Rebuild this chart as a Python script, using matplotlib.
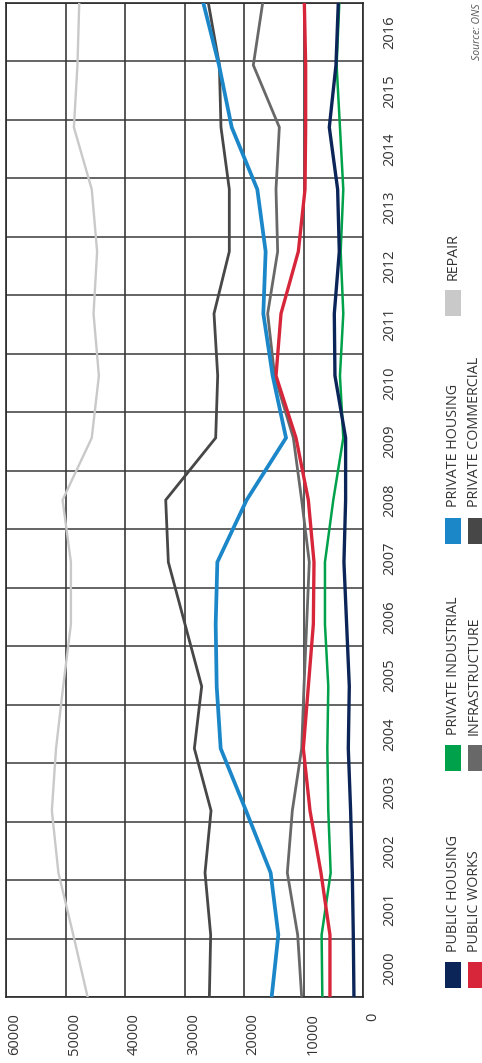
import numpy as np
import matplotlib
matplotlib.use("Agg")
import matplotlib.pyplot as plt
from matplotlib.transforms import ScaledTranslation
from matplotlib.patches import Rectangle

plt.rcParams['font.family'] = ['Open Sans', 'DejaVu Sans']

# Construction output by sector (GBP million), 2000-2016
years = [str(y) for y in range(2000, 2017)]
public_housing = [1570, 1680, 1850, 2130, 2520, 2350, 2800, 3250, 2970, 2970,
                  4760, 4870, 4030, 4310, 5710, 4590, 4200]
private_industrial = [6880, 7000, 5480, 5880, 6040, 5880, 6440, 6440, 5040, 3360,
                      3920, 3360, 3800, 3360, 3920, 4480, 4030]
private_housing = [15390, 14270, 15560, 19700, 23950, 24620, 24790, 24510, 19590, 12980,
                   15220, 16790, 16400, 17800, 22100, 24230, 26860]
repair = [46300, 48700, 51200, 52300, 51600, 50400, 49100, 49100, 50500, 45600,
          44400, 45300, 44700, 45600, 48600, 48000, 47700]
public_works = [5600, 5600, 7110, 8950, 10070, 9230, 8390, 8280, 9230, 11300,
                14660, 13820, 10910, 9790, 9680, 9680, 9900]
infrastructure = [10350, 11020, 12760, 11920, 10350, 9960, 9510, 9070, 10350, 11750,
                  14890, 16060, 14380, 14660, 14100, 18470, 16900]
private_commercial = [25850, 25630, 26580, 25570, 28370, 27140, 29940, 32740, 33180, 24790,
                      24450, 25070, 22500, 22500, 23900, 24170, 26020]

value_ticks = [0, 10000, 20000, 30000, 40000, 50000, 60000]

W, H, DPI = 482, 1063, 100
fig = plt.figure(figsize=(W / DPI, H / DPI), dpi=DPI)

# Axes box in pixel units, converted to figure fractions
x0, x1, ytop, ybot = 6, 363.3, 3, 997
ax = fig.add_axes([x0 / W, 1 - ybot / H, (x1 - x0) / W, (ybot - ytop) / H])

idx = np.arange(len(years))
n = len(years) - 1

series = [
    (repair, '#c9c9c9', 1.7),
    (private_commercial, '#474747', 2.0),
    (infrastructure, '#686868', 2.0),
    (private_industrial, '#00a14b', 1.8),
    (public_works, '#d7263a', 2.4),
    (public_housing, '#0b2559', 2.4),
    (private_housing, '#1b87c9', 2.7),
]
for vals, col, lw in series:
    ax.plot(vals, idx, color=col, lw=lw, solid_joinstyle='miter', zorder=3)

ax.set_xlim(60000, 0)
ax.set_ylim(0, n)

# value axis (drawn along the bottom, rotated labels)
ax.set_xticks(value_ticks)
ax.set_xticklabels([str(v) for v in value_ticks], rotation=90, fontsize=10.5,
                   color='#333333')
ax.tick_params(axis='x', length=0, pad=11.5)
for lab in ax.get_xticklabels():
    lab.set_transform(lab.get_transform() + ScaledTranslation(0.09, 0, fig.dpi_scale_trans))
ax.grid(axis='x', which='major', color='#2a2a2a', lw=1.1, zorder=1)

# year bands: gridlines on band edges, labels at band centres on the right
band = n / len(years)
ax.set_yticks([k * band for k in range(len(years) + 1)], minor=True)
ax.set_yticks([(k + 0.5) * band for k in range(len(years))])
ax.set_yticklabels(years, rotation=90, va='center', fontsize=10.5, color='#333333')
ax.yaxis.tick_right()
ax.tick_params(axis='y', which='both', length=0, pad=14)
ax.grid(axis='y', which='minor', color='#3a3a3a', lw=1.1, zorder=1)

for s in ax.spines.values():
    s.set_color('#2a2a2a')
    s.set_linewidth(1.2)

# legend, laid out by hand in pixel coordinates
legend_items = [
    ('PUBLIC HOUSING', '#0b2559', 0, 952, 962),
    ('PUBLIC WORKS', '#d7263a', 1, 952, 962),
    ('PRIVATE INDUSTRIAL', '#00a14b', 0, 735, 745),
    ('INFRASTRUCTURE', '#686868', 1, 735, 745),
    ('PRIVATE HOUSING', '#1b87c9', 0, 507, 518),
    ('PRIVATE COMMERCIAL', '#474747', 1, 507, 518),
    ('REPAIR', '#c9c9c9', 0, 280, 290),
]
swatch_x = [445, 468]
for label, col, row, ty, sy in legend_items:
    xs = swatch_x[row]
    fig.patches.append(Rectangle((xs / W, 1 - (sy + 26) / H), 16 / W, 26 / H,
                                 transform=fig.transFigure, facecolor=col,
                                 edgecolor='none'))
    if row == 0:
        fig.text((xs + 8.5) / W, 1 - ty / H, label, rotation=90, ha='center',
                 va='bottom', fontsize=10.3, color='#333333')
    else:
        fig.text(481.5 / W, 1 - ty / H, label, rotation=90, ha='right',
                 va='bottom', fontsize=10.3, color='#333333')

fig.text(478 / W, 1 - 3 / H, 'Source: ONS', rotation=90, ha='center', va='top',
         fontsize=7.5, style='italic', color='#555555')

fig.savefig('out.png', dpi=DPI)
